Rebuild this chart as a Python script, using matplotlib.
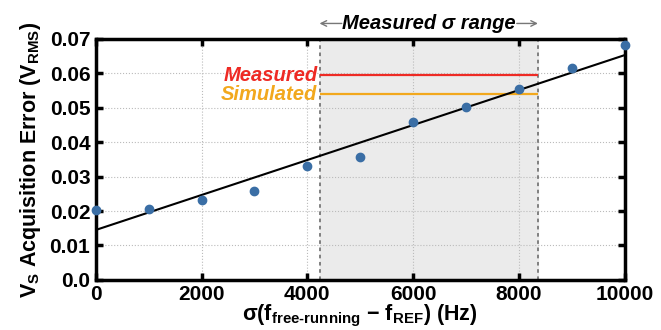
import numpy as np
import matplotlib
matplotlib.use("Agg")
import matplotlib.pyplot as plt

plt.rcParams['font.family'] = ['Liberation Sans', 'DejaVu Sans']
plt.rcParams['mathtext.fontset'] = 'custom'
plt.rcParams['mathtext.rm'] = 'Liberation Sans:bold'
plt.rcParams['mathtext.it'] = 'Liberation Sans:bold'
plt.rcParams['mathtext.bf'] = 'Liberation Sans:bold'

#### Data ####
sigma = [0, 1000, 2000, 3000, 4000, 5000, 6000, 7000, 8000, 9000, 10000]
vs_err = [0.0203, 0.0206, 0.0232, 0.0258, 0.0331, 0.0357, 0.0459, 0.0502, 0.0555, 0.0616, 0.0682]
fit_x = [0, 10000]
fit_y = [0.0145, 0.0653]
range_lo, range_hi = 4230, 8360
measured_err = 0.0595
simulated_err = 0.0539

fig = plt.figure(figsize=(6.61, 3.3), dpi=100)
ax = fig.add_axes([0.145, 0.152, 0.80, 0.73])

ax.axvspan(range_lo, range_hi, color='#ebebeb', zorder=0)
ax.axvline(range_lo, color='#777777', ls=(0, (2, 2)), lw=1.3, zorder=1)
ax.axvline(range_hi, color='#777777', ls=(0, (2, 2)), lw=1.3, zorder=1)

ax.plot(fit_x, fit_y, color='black', lw=1.5, zorder=3)
ax.plot(sigma, vs_err, 'o', color='#3a6ea5', ms=6, zorder=4, clip_on=False)

ax.hlines(measured_err, range_lo, range_hi, color='#ee2a24', lw=1.6, zorder=2)
ax.hlines(simulated_err, range_lo, range_hi, color='#f2a81d', lw=1.6, zorder=2)
ax.text(range_lo - 40, measured_err, 'Measured', color='#ee2a24', fontsize=14.5,
        fontweight='bold', style='italic', ha='right', va='center')
ax.text(range_lo - 40, simulated_err, 'Simulated', color='#f2a81d', fontsize=14.5,
        fontweight='bold', style='italic', ha='right', va='center')

# header arrow for measured range
ymid = 0.0745
ax.annotate('', xy=(range_lo, ymid), xytext=(range_lo + 420, ymid), annotation_clip=False,
            arrowprops=dict(arrowstyle='->', color='#777777', lw=1.0, shrinkA=0, shrinkB=0))
ax.annotate('', xy=(range_hi, ymid), xytext=(range_hi - 400, ymid), annotation_clip=False,
            arrowprops=dict(arrowstyle='->', color='#777777', lw=1.0, shrinkA=0, shrinkB=0))
ax.text((range_lo + range_hi) / 2 + 10, ymid, 'Measured σ range', fontsize=14.5,
        fontweight='bold', style='italic', ha='center', va='center')

ax.set_xlim(0, 10000)
ax.set_ylim(0, 0.07)
ax.set_xticks([0, 2000, 4000, 6000, 8000, 10000])
ax.set_yticks(np.arange(0, 0.071, 0.01))
ax.set_yticklabels(['0.0', '0.01', '0.02', '0.03', '0.04', '0.05', '0.06', '0.07'])
ax.grid(True, color='#bbbbbb', ls=':', lw=0.8)
ax.set_axisbelow(True)
ax.tick_params(direction='in', width=2.5, length=5, labelsize=15, top=True, right=True, pad=4)
for lab in ax.get_xticklabels() + ax.get_yticklabels():
    lab.set_fontweight('bold')
for s in ax.spines.values():
    s.set_linewidth(2.5)

ax.set_xlabel(r'σ(f$_{\mathregular{free\text{-}running}}$ − f$_{\mathregular{REF}}$) (Hz)',
              fontsize=15.5, fontweight='bold', labelpad=-1)
ax.set_ylabel(r'V$_{\mathregular{S}}$ Acquisition Error (V$_{\mathregular{RMS}}$)',
              fontsize=15.5, fontweight='bold', labelpad=5)

fig.savefig('out.png', dpi=100)
